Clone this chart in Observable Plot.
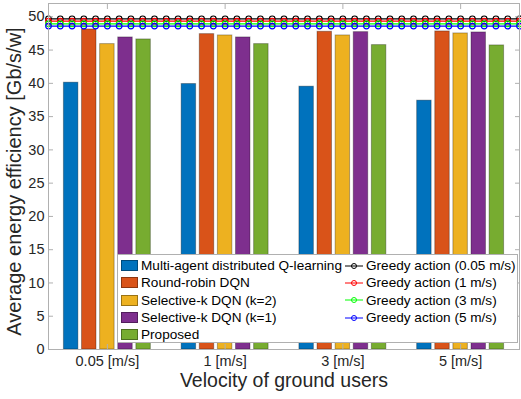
<!DOCTYPE html>
<html>
<head>
<meta charset="utf-8">
<script src="https://cdn.jsdelivr.net/npm/d3@7"></script>
<script src="https://cdn.jsdelivr.net/npm/@observablehq/plot@0.6"></script>
<style>
  html, body { margin: 0; padding: 0; background: #fff; }
  #wrap { position: relative; width: 521px; height: 399px; font-family: "Liberation Sans", Arial, sans-serif; }
  #legend { position: absolute; left: 117px; top: 254px; width: 401px; height: 89px; background: #fff; border: 1px solid #b0b0b0;
    display: grid; grid-template-columns: 225px auto; grid-auto-flow: column; grid-template-rows: repeat(5, 17.3px); padding-top: 2px; box-sizing: border-box;
    font-size: 13.6px; color: #000; }
  .item { display: flex; align-items: center; white-space: nowrap; }
  .sw { width: 17px; height: 11px; margin-left: 3px; margin-right: 3px; box-sizing: border-box; border: 1px solid rgba(0,0,0,0.35); flex: none; }
  .ln { margin-right: 1px; flex: none; }
</style>
</head>
<body>
<div id="wrap"></div>
<script>
const velocities = ["0.05 [m/s]", "1 [m/s]", "3 [m/s]", "5 [m/s]"];
const methods = ["Multi-agent distributed Q-learning", "Round-robin DQN", "Selective-k DQN (k=2)", "Selective-k DQN (k=1)", "Proposed"];
const methodColors = ["#0072BD", "#D95319", "#EDB120", "#7E2F8E", "#77AC30"];
const multiAgentQ = [40.1, 39.9, 39.5, 37.4];
const roundRobinDQN = [48.1, 47.4, 47.75, 47.8];
const selectiveK2 = [45.9, 47.2, 47.2, 47.5];
const selectiveK1 = [46.9, 46.9, 47.7, 47.65];
const proposed = [46.6, 45.9, 45.75, 45.7];
const greedyLabels = ["Greedy action (0.05 m/s)", "Greedy action (1 m/s)", "Greedy action (3 m/s)", "Greedy action (5 m/s)"];
const greedyValues = [49.7, 49.35, 48.95, 48.6];
const greedyColors = ["#000000", "#FF0000", "#00FF00", "#0000FF"];
const yTicks = [0, 5, 10, 15, 20, 25, 30, 35, 40, 45, 50];

const series = [multiAgentQ, roundRobinDQN, selectiveK2, selectiveK1, proposed];
const nGroups = velocities.length, nBars = methods.length;
const groupWidth = Math.min(0.8, nBars / (nBars + 1.5));
const step = groupWidth / nBars, barW = step * 0.8;
const bars = [];
series.forEach((vals, j) => vals.forEach((v, i) => {
  const c = i + 1 + (j - (nBars - 1) / 2) * step;
  bars.push({method: methods[j], velocity: velocities[i], value: v, x1: c - barW / 2, x2: c + barW / 2});
}));
// greedy lines: constant values, markers every 0.1 along the x range
const xs = d3.range(41).map(k => 0.5 + k * 0.1);
const greedy = [];
greedyValues.forEach((v, g) => xs.forEach(x => greedy.push({label: greedyLabels[g], x, y: v})));

const plot = Plot.plot({
  width: 521, height: 399,
  marginLeft: 48, marginRight: 2, marginTop: 3, marginBottom: 50,
  style: {fontFamily: "'Liberation Sans', Arial, sans-serif", fontSize: "14.5px", color: "#262626", background: "#fff", overflow: "visible"},
  x: {domain: [0.5, 4.5], axis: null},
  y: {domain: [0, 52], axis: null},
  color: {domain: [...methods, ...greedyLabels], range: [...methodColors, ...greedyColors]},
  marks: [
    Plot.rectY(bars, {x1: "x1", x2: "x2", y: "value", fill: "method", stroke: "#000", strokeOpacity: 0.3, strokeWidth: 1, inset: 0}),
    Plot.line(greedy, {x: "x", y: "y", z: "label", stroke: "label", strokeWidth: 1.2}),
    Plot.dot(greedy, {x: "x", y: "y", stroke: "label", r: 2.8, strokeWidth: 1.2, fill: "none"}),
    Plot.axisY(yTicks, {anchor: "left", tickSize: -5, tickPadding: 9, stroke: "#b0b0b0", fill: "#262626", label: null}),
    Plot.axisY(yTicks, {anchor: "right", tickSize: -5, tickFormat: () => "", stroke: "#b0b0b0", label: null}),
    Plot.axisX([1, 2, 3, 4], {anchor: "bottom", tickSize: -5, tickPadding: 11, tickFormat: d => velocities[d - 1], stroke: "#b0b0b0", fill: "#262626", label: null}),
    Plot.axisX([1, 2, 3, 4], {anchor: "top", tickSize: -5, tickFormat: () => "", stroke: "#b0b0b0", label: null}),
    Plot.frame({stroke: "#b0b0b0"}),
    Plot.text(["Velocity of ground users"], {frameAnchor: "bottom", dy: 37, fontSize: 19.5, fill: "#262626"}),
    Plot.text(["Average energy efficiency [Gb/s/w]"], {frameAnchor: "left", textAnchor: "middle", dx: -34, dy: 5, rotate: -90, fontSize: 20, fill: "#262626"})
  ]
});
const wrap = document.getElementById("wrap");
wrap.appendChild(plot);

const legend = document.createElement("div");
legend.id = "legend";
methods.forEach((m, j) => {
  const it = document.createElement("div");
  it.className = "item";
  it.innerHTML = `<span class="sw" style="background:${methodColors[j]}"></span><span>${m}</span>`;
  legend.appendChild(it);
});
greedyLabels.forEach((g, k) => {
  const it = document.createElement("div");
  it.className = "item";
  it.innerHTML = `<svg class="ln" width="22" height="10"><line x1="2" x2="20" y1="5" y2="5" stroke="${greedyColors[k]}" stroke-width="1"/><circle cx="11" cy="5" r="2.5" fill="none" stroke="${greedyColors[k]}" stroke-width="1"/></svg><span>${g}</span>`;
  legend.appendChild(it);
});
wrap.appendChild(legend);
</script>
</body>
</html>
